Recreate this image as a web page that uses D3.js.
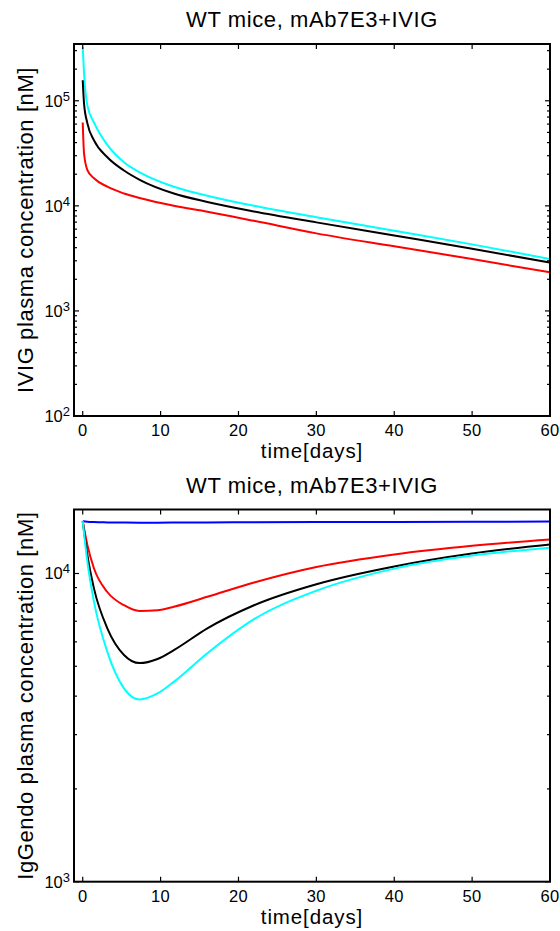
<!DOCTYPE html>
<html>
<head>
<meta charset="utf-8">
<script src="https://cdn.jsdelivr.net/npm/d3@7"></script>
<style>
  body { margin: 0; background: #fff; }
  svg text { font-family: "Liberation Sans", Arial, Helvetica, sans-serif; fill: #000; }
</style>
</head>
<body>
<svg id="chart" width="560" height="931"></svg>
<script>
// top panel: IVIG plasma concentration [nM]
var ivigDays = [0, 0.17, 0.6, 1.45, 3.16, 5.3, 7.44, 11.7, 16, 22, 30, 40, 50, 60];
var ivigCyan = [327000, 182000, 90000, 62000, 38000, 26000, 20600, 15200, 12500, 10000, 7800, 5800, 4300, 3120];
var ivigBlack = [157000, 94000, 61000, 42000, 29000, 21700, 17500, 13100, 10900, 8850, 6960, 5220, 3910, 2880];
var ivigRed = [62000, 31500, 21900, 18300, 15200, 13100, 11800, 10000, 8800, 7200, 5470, 4120, 3120, 2330];

// bottom panel: IgGendo plasma concentration [nM]
var endoDays = [0, 0.6, 1.45, 3.16, 5.3, 7.3, 9.6, 11.7, 16, 22, 30, 40, 50, 60];
var endoBlue = [14780, 14720, 14680, 14650, 14630, 14620, 14620, 14630, 14640, 14660, 14680, 14700, 14720, 14740];
var endoRed = [14780, 12360, 10380, 8710, 7890, 7560, 7600, 7800, 8400, 9350, 10500, 11530, 12300, 12890];
var endoBlack = [14780, 11460, 8930, 6640, 5440, 5120, 5280, 5640, 6640, 7890, 9230, 10540, 11610, 12420];
var endoCyan = [14780, 10900, 8090, 5570, 4240, 3900, 4080, 4450, 5510, 7110, 8790, 10370, 11430, 12130];

var xTickValues = [0, 10, 20, 30, 40, 50, 60];
var titleText = "WT mice, mAb7E3+IVIG";

var svg = d3.select("#chart");

function drawPanel(p) {
  var x = d3.scaleLinear().domain([-1.12, 60]).range([p.left, p.right]);
  var y = d3.scaleLog().domain(p.yDomain).range([p.bottom, p.top]);
  var g = svg.append("g");

  g.append("clipPath").attr("id", p.id + "-clip")
    .append("rect")
    .attr("x", p.left).attr("y", p.top)
    .attr("width", p.right - p.left).attr("height", p.bottom - p.top);

  var line = d3.line()
    .curve(d3.curveMonotoneX)
    .x(function(d) { return x(d[0]); })
    .y(function(d) { return y(d[1]); });

  var lines = g.append("g").attr("clip-path", "url(#" + p.id + "-clip)");
  p.series.forEach(function(s) {
    lines.append("path")
      .datum(d3.zip(p.days, s.values))
      .attr("fill", "none")
      .attr("stroke", s.color)
      .attr("stroke-width", 2)
      .attr("d", line);
  });

  // ticks point inward on every side
  var ticks = g.append("g").attr("stroke", "#000").attr("stroke-width", 1.2);
  xTickValues.forEach(function(v) {
    ticks.append("line").attr("x1", x(v)).attr("x2", x(v)).attr("y1", p.bottom).attr("y2", p.bottom - 5);
    ticks.append("line").attr("x1", x(v)).attr("x2", x(v)).attr("y1", p.top).attr("y2", p.top + 5);
    g.append("text")
      .attr("x", x(v)).attr("y", p.bottom + 20)
      .attr("text-anchor", "middle")
      .style("font-size", "16.5px")
      .style("letter-spacing", "0.4px")
      .text(v);
  });

  y.ticks().forEach(function(v) {
    var e = Math.round(Math.log10(v));
    var major = Math.abs(Math.log10(v) - e) < 1e-9;
    var len = major ? 5 : 3;
    ticks.append("line").attr("x1", p.left).attr("x2", p.left + len).attr("y1", y(v)).attr("y2", y(v));
    ticks.append("line").attr("x1", p.right).attr("x2", p.right - len).attr("y1", y(v)).attr("y2", y(v));
    if (major) {
      var t = g.append("text")
        .attr("x", p.left - 4).attr("y", y(v) + 6)
        .attr("text-anchor", "end")
        .style("font-size", "16.5px");
      t.append("tspan").text("10");
      t.append("tspan").attr("dy", -6).style("font-size", "13px").text(e);
    }
  });

  g.append("rect")
    .attr("x", p.left).attr("y", p.top)
    .attr("width", p.right - p.left).attr("height", p.bottom - p.top)
    .attr("fill", "none").attr("stroke", "#000").attr("stroke-width", 2);

  g.append("text")
    .attr("x", (p.left + p.right) / 2).attr("y", p.top - 17)
    .attr("text-anchor", "middle")
    .style("font-size", "22px").style("letter-spacing", "0.6px")
    .text(titleText);

  g.append("text")
    .attr("x", (p.left + p.right) / 2).attr("y", p.bottom + 42)
    .attr("text-anchor", "middle")
    .style("font-size", "20.5px").style("letter-spacing", "0.9px")
    .text("time[days]");

  g.append("text")
    .attr("transform", "translate(33," + ((p.top + p.bottom) / 2) + ") rotate(-90)")
    .attr("text-anchor", "middle")
    .style("font-size", "22px").style("letter-spacing", "0.6px")
    .text(p.yLabel);
}

drawPanel({
  id: "ivig", left: 74, right: 550, top: 44, bottom: 416,
  yDomain: [100, 347000],
  yLabel: "IVIG plasma concentration [nM]",
  days: ivigDays,
  series: [
    { color: "#00ffff", values: ivigCyan },
    { color: "#000000", values: ivigBlack },
    { color: "#ff0000", values: ivigRed }
  ]
});

drawPanel({
  id: "endo", left: 74, right: 550, top: 509.5, bottom: 881.7,
  yDomain: [1000, 16130],
  yLabel: "IgGendo plasma concentration [nM]",
  days: endoDays,
  series: [
    { color: "#0000ff", values: endoBlue },
    { color: "#ff0000", values: endoRed },
    { color: "#000000", values: endoBlack },
    { color: "#00ffff", values: endoCyan }
  ]
});
</script>
</body>
</html>
